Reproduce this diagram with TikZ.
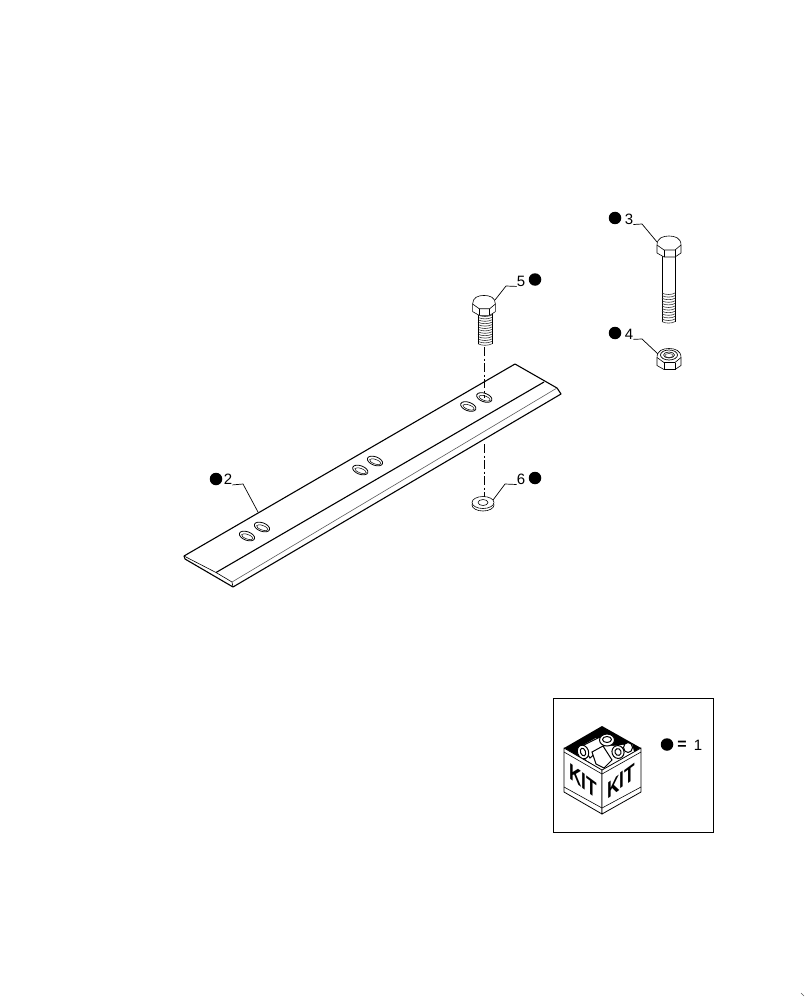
\documentclass[tikz,border=0pt]{standalone}
\usepackage{fontspec}
\setmainfont{Liberation Sans}
\usetikzlibrary{shapes.geometric}
\tikzset{
  bullet/.style={circle, fill, inner sep=0pt, minimum size=12.5pt},
  num/.style={inner sep=0pt, font=\fontsize{15}{15}\selectfont},
  leader/.style={line width=.7pt},
  edge/.style={line width=1.1pt, line join=round},
  thin edge/.style={line width=.6pt, black!65},
  axis/.style={line width=.7pt, dash pattern=on 9pt off 2.5pt on 2pt off 2.5pt},
  hole/.style={ellipse, draw, line width=.8pt, rotate=-20, inner sep=0pt, minimum width=16pt, minimum height=8.5pt},
  hole in/.style={ellipse, draw, line width=.5pt, rotate=-20, inner sep=0pt, minimum width=12pt, minimum height=4.5pt},
  part/.style={line width=.6pt, line join=round},
  ring/.style={ellipse, draw, part, inner sep=0pt},
  kitword/.style={inner sep=0pt, transform shape, font=\fontsize{23}{23}\selectfont\bfseries},
  hexhead/.pic={
    \draw[part, fill=white] (-12,0) .. controls (-12,-7) and (-6,-9) .. (0,-9) .. controls (6,-9) and (12,-7) .. (12,0)
      -- (12,8) -- (6,12) -- (-5,12) -- (-12,8) -- cycle;
    \draw[part] (-12,0) -- (-5,5) -- (6,5) -- (12,0);
    \draw[part] (-5,5) -- (-5,12);
    \draw[part] (6,5) -- (6,12);
  },
}
\begin{document}
\begin{tikzpicture}[x=1pt, y=-1pt]
\useasboundingbox (0,0) rectangle (808,1000);
% blade
\coordinate (bl) at (184,556);
\coordinate (bk) at (515,364);
\coordinate (br) at (557,388);
\coordinate (fr) at (561,394);
\coordinate (fb) at (233,587);
\coordinate (fl) at (185,559);
\coordinate (bvl) at (216,572.5);
\coordinate (bvr) at (544,382);
\coordinate (tnl) at (232,582);
\draw[edge] (bl) -- (bk) -- (br) -- (fr) -- (fb) -- (fl) -- cycle;
\draw[edge] (bvl) -- (bvr);
\draw[part] (bl) -- (bvl) -- (tnl) -- (fb);
\draw[thin edge] (tnl) -- (br);
% holes
\foreach \n/\px/\py in {a/247/536, b/262/527, c/360.3/470, d/375/461, e/468.3/406.5, f/484.3/397.5}{
  \node[hole] (hole\n) at (\px,\py){};
  \node[hole in] (inn\n) at (\px+.3,\py+.7){};
}
% bolt 5
\foreach \ty in {315,317.4,...,344}{
  \draw[part, black!80] (478,\ty) .. controls (482,\ty+2) and (488,\ty+2) .. (492,\ty);
}
\draw[part] (478,313) -- (478,344);
\draw[part] (492,313) -- (492,344);
\pic[scale=.95] (head5) at (484,304) {hexhead};
% bolt 3
\draw[part] (662,255) -- (662,322);
\draw[part] (675,255) -- (675,322);
\foreach \ty in {293,295.6,...,323}{
  \draw[part, black!80] (662,\ty) .. controls (665,\ty+2) and (672,\ty+2) .. (675,\ty);
}
\pic (head3) at (669,245) {hexhead};
% nut 4
\pic (nut4) at (669,357.5) {hexhead};
\node[ring, line width=.7pt, minimum width=17pt, minimum height=10pt] (nuto) at (669,355){};
\node[ring, minimum width=11pt, minimum height=6pt] (nutm) at (669,355){};
\node[ring, line width=.4pt, minimum width=8pt, minimum height=4pt] (nuti) at (669,355.5){};
% washer 6
\node[ring, fill=white, minimum width=22pt, minimum height=12pt] (wshb) at (483,505){};
\node[ring, fill=white, minimum width=22pt, minimum height=12pt] (wsht) at (483,502.5){};
\node[ring, minimum width=10pt, minimum height=6pt] (wshi) at (483,502.5){};
% center line
\coordinate (axa) at (484.5,347);
\coordinate (axb) at (484.5,398);
\coordinate (axc) at (484.5,444);
\coordinate (axd) at (484.5,497);
\draw[axis] (axa) -- (axb);
\draw[axis] (axc) -- (axd);
% callouts
\node[bullet] (dot2) at (216,479){};
\node[num] (num2) at (228,479.5){2};
\coordinate (elb2) at (243,484);
\coordinate (tip2) at (258,512);
\draw[leader] (num2.south east) -- (elb2) -- (tip2);
\node[bullet] (dot3) at (615,218){};
\node[num] (num3) at (629,219){3};
\coordinate (elb3) at (642,224);
\coordinate (tip3) at (657,242);
\draw[leader] (num3.south east) -- (elb3) -- (tip3);
\node[bullet] (dot4) at (615,333){};
\node[num] (num4) at (629,334){4};
\coordinate (elb4) at (642,339);
\coordinate (tip4) at (658,354);
\draw[leader] (num4.south east) -- (elb4) -- (tip4);
\node[bullet] (dot5) at (535,279.5){};
\node[num] (num5) at (521,281){5};
\coordinate (elb5) at (506,286);
\coordinate (tip5) at (495,300);
\draw[leader] (num5.south west) -- (elb5) -- (tip5);
\node[bullet] (dot6) at (535,478){};
\node[num] (num6) at (521,479){6};
\coordinate (elb6) at (505,484);
\coordinate (tip6) at (493,500);
\draw[leader] (num6.south west) -- (elb6) -- (tip6);
% kit frame
\node[draw, line width=.9pt, inner sep=0pt, minimum width=159.5pt, minimum height=134pt] (kitframe) at (633.5,765){};
% kit box
\coordinate (ktp) at (602,726);
\coordinate (klf) at (564,748);
\coordinate (krt) at (641,748);
\coordinate (kmd) at (602,770);
\coordinate (kbt) at (602,814);
\coordinate (klb) at (564,792);
\coordinate (krb) at (641,792);
\fill (ktp) -- (krt) -- (kmd) -- (klf) -- cycle;
% parts in the box
\fill[white] (578,748) -- (596,738) -- (612,746) -- (632,744) -- (634,752) -- (612,766) -- (602,770) -- (586,760) -- cycle;
\draw[line width=1pt, fill=white] (582,746) -- (600,737) -- (604,746) -- (590,758) -- cycle;
\node[ring, fill=white, line width=1pt, rotate=20, minimum width=11pt, minimum height=14pt] (kpa) at (583,752){};
\node[ring, line width=1pt, rotate=20, minimum width=5pt, minimum height=8pt] (kpb) at (583,752){};
\draw[line width=1pt, fill=white] (592,752) -- (603,746) -- (612,760) -- (604,768) -- (596,764) -- cycle;
\node[ring, fill=white, line width=1pt, minimum width=15pt, minimum height=12pt] (kpc) at (607,740){};
\node[ring, line width=1pt, minimum width=9pt, minimum height=6pt] (kpd) at (607,739.5){};
\node[ring, fill=white, line width=1pt, minimum width=9pt, minimum height=10pt] (kpg) at (628,747.5){};
\node[ring, fill=white, line width=1pt, rotate=20, minimum width=12pt, minimum height=13pt] (kpe) at (618,752){};
\node[ring, line width=1pt, rotate=20, minimum width=6pt, minimum height=7pt] (kpf) at (618,752){};
% box faces
\draw[line width=.8pt, line join=round, fill=white] (klf) -- (kmd) -- (kbt) -- (klb) -- cycle;
\draw[line width=.8pt, line join=round, fill=white] (krt) -- (kmd) -- (kbt) -- (krb) -- cycle;
\coordinate (kla) at (564,787);
\coordinate (kra) at (641,787);
\coordinate (kba) at (602,808);
\draw[part] (kla) -- (kba) -- (kra);
\coordinate (klc) at (564,752);
\coordinate (krc) at (641,752);
\coordinate (kmc) at (602,774);
\draw[part] (klc) -- (kmc) -- (krc);
\node[kitword, xscale=.75, yslant=-.55] (kitl) at (583,781){KIT};
\node[kitword, xscale=.75, yslant=.55] (kitr) at (621,781){KIT};
% key
\node[bullet] (dotk) at (667,744.5){};
\node[inner sep=0pt, font=\fontsize{16}{16}\selectfont\bfseries] (eqk) at (682,745.5){=};
\node[num] (numk) at (698,745.5){1};
% scan mark
\coordinate (mka) at (801,993);
\coordinate (mkb) at (804,996);
\draw[thin edge] (mka) -- (mkb);
\end{tikzpicture}
\end{document}
